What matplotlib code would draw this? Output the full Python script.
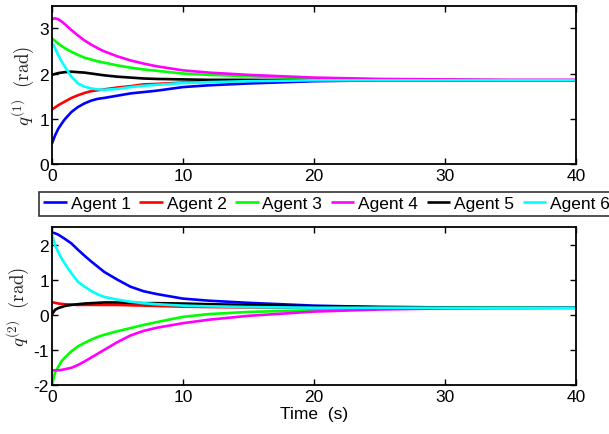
import matplotlib
matplotlib.use("Agg")
import matplotlib.pyplot as plt

plt.rcParams['font.family'] = ['Liberation Sans', 'DejaVu Sans']
plt.rcParams['mathtext.fontset'] = 'cm'
plt.rcParams['axes.unicode_minus'] = False

# time samples (s)
t = [0, 0.25, 0.5, 0.75, 1, 1.5, 2, 2.5, 3, 3.5, 4, 5, 6, 7, 8, 10, 12, 15, 20, 25, 30, 35, 40]

# joint 1 (rad)
q1_agent1 = [0.44, 0.63, 0.78, 0.89, 0.99, 1.15, 1.26, 1.34, 1.40, 1.44, 1.46, 1.51, 1.56, 1.59, 1.62, 1.70, 1.74, 1.78, 1.83, 1.85, 1.85, 1.85, 1.85]
q1_agent2 = [1.20, 1.25, 1.30, 1.34, 1.38, 1.46, 1.52, 1.57, 1.61, 1.63, 1.65, 1.69, 1.72, 1.76, 1.77, 1.80, 1.82, 1.84, 1.85, 1.85, 1.85, 1.85, 1.85]
q1_agent3 = [2.78, 2.72, 2.66, 2.61, 2.56, 2.48, 2.41, 2.35, 2.31, 2.27, 2.24, 2.18, 2.13, 2.09, 2.06, 2.00, 1.97, 1.94, 1.89, 1.87, 1.86, 1.85, 1.85]
q1_agent4 = [3.20, 3.22, 3.20, 3.15, 3.09, 2.96, 2.84, 2.73, 2.64, 2.56, 2.49, 2.38, 2.29, 2.22, 2.16, 2.07, 2.02, 1.97, 1.91, 1.88, 1.87, 1.86, 1.86]
q1_agent5 = [1.97, 1.99, 2.01, 2.02, 2.03, 2.04, 2.03, 2.02, 2.00, 1.98, 1.96, 1.93, 1.91, 1.89, 1.88, 1.87, 1.86, 1.86, 1.85, 1.85, 1.85, 1.85, 1.85]
q1_agent6 = [2.70, 2.56, 2.40, 2.27, 2.15, 1.93, 1.78, 1.71, 1.67, 1.65, 1.64, 1.66, 1.70, 1.73, 1.75, 1.79, 1.81, 1.83, 1.85, 1.85, 1.85, 1.85, 1.85]

# joint 2 (rad)
q2_agent1 = [2.34, 2.32, 2.28, 2.22, 2.16, 2.03, 1.85, 1.68, 1.52, 1.37, 1.22, 1.00, 0.80, 0.67, 0.59, 0.46, 0.40, 0.34, 0.26, 0.22, 0.21, 0.20, 0.20]
q2_agent2 = [0.36, 0.34, 0.32, 0.31, 0.30, 0.29, 0.28, 0.28, 0.28, 0.28, 0.28, 0.28, 0.27, 0.26, 0.25, 0.23, 0.22, 0.21, 0.20, 0.20, 0.20, 0.20, 0.20]
q2_agent3 = [-2.00, -1.65, -1.48, -1.32, -1.22, -1.04, -0.90, -0.80, -0.71, -0.63, -0.57, -0.47, -0.38, -0.29, -0.21, -0.06, 0.02, 0.08, 0.13, 0.17, 0.19, 0.20, 0.20]
q2_agent4 = [-1.58, -1.58, -1.58, -1.57, -1.55, -1.51, -1.43, -1.33, -1.22, -1.11, -1.00, -0.78, -0.59, -0.46, -0.37, -0.24, -0.14, -0.03, 0.09, 0.15, 0.18, 0.19, 0.20]
q2_agent5 = [0.00, 0.14, 0.19, 0.22, 0.25, 0.28, 0.30, 0.32, 0.33, 0.34, 0.35, 0.35, 0.34, 0.33, 0.33, 0.32, 0.30, 0.28, 0.24, 0.22, 0.21, 0.20, 0.20]
q2_agent6 = [2.30, 1.98, 1.78, 1.60, 1.45, 1.18, 0.94, 0.80, 0.68, 0.58, 0.51, 0.43, 0.37, 0.33, 0.30, 0.26, 0.24, 0.22, 0.20, 0.20, 0.20, 0.20, 0.20]

labels = ["Agent 1", "Agent 2", "Agent 3", "Agent 4", "Agent 5", "Agent 6"]
colors = ["#0000ff", "#ff0000", "#00ff00", "#ff00ff", "#000000", "#00ffff"]

q1 = [q1_agent1, q1_agent2, q1_agent3, q1_agent4, q1_agent5, q1_agent6]
q2 = [q2_agent1, q2_agent2, q2_agent3, q2_agent4, q2_agent5, q2_agent6]

fig = plt.figure(figsize=(6.09, 4.35), dpi=100)
ax1 = fig.add_axes([0.085, 0.6207, 0.861, 0.364])
ax2 = fig.add_axes([0.085, 0.1126, 0.861, 0.3634])

for ax, data in [(ax1, q1), (ax2, q2)]:
    for y, c, lab in zip(data, colors, labels):
        ax.plot(t, y, color=c, lw=1.9, label=lab, solid_capstyle='butt')
    ax.set_xlim(0, 40)
    ax.set_xticks([0, 10, 20, 30, 40])
    ax.tick_params(direction='in', top=True, right=True, labelsize=12.5, length=4, width=1.0)
    ax.tick_params(axis='x', pad=3)
    ax.tick_params(axis='y', pad=2)
    for s in ax.spines.values():
        s.set_linewidth(1.3)

ax1.set_ylim(0, 3.5)
ax1.set_yticks([0, 1, 2, 3])
ax2.set_ylim(-2, 2.5)
ax2.set_yticks([-2, -1, 0, 1, 2])

ax1.set_ylabel(r'$q^{(1)}\ \ \mathrm{(rad)}$', fontsize=13.5, labelpad=2, color='#222222')
ax2.set_ylabel(r'$q^{(2)}\ \ \mathrm{(rad)}$', fontsize=13.5, labelpad=2, color='#222222')
ax2.set_xlabel('Time  (s)', fontsize=12.5, labelpad=1)

handles, labs = ax1.get_legend_handles_labels()
leg = fig.legend(handles, labs, loc='center left', bbox_to_anchor=(0.064, 0.529),
                 ncol=6, fontsize=12.5, handlelength=1.35, handletextpad=0.22,
                 columnspacing=0.5, borderpad=0.25, fancybox=False,
                 frameon=True, borderaxespad=0)
leg.get_frame().set_edgecolor('black')
leg.get_frame().set_linewidth(1.2)

fig.savefig('out.png', dpi=100)
